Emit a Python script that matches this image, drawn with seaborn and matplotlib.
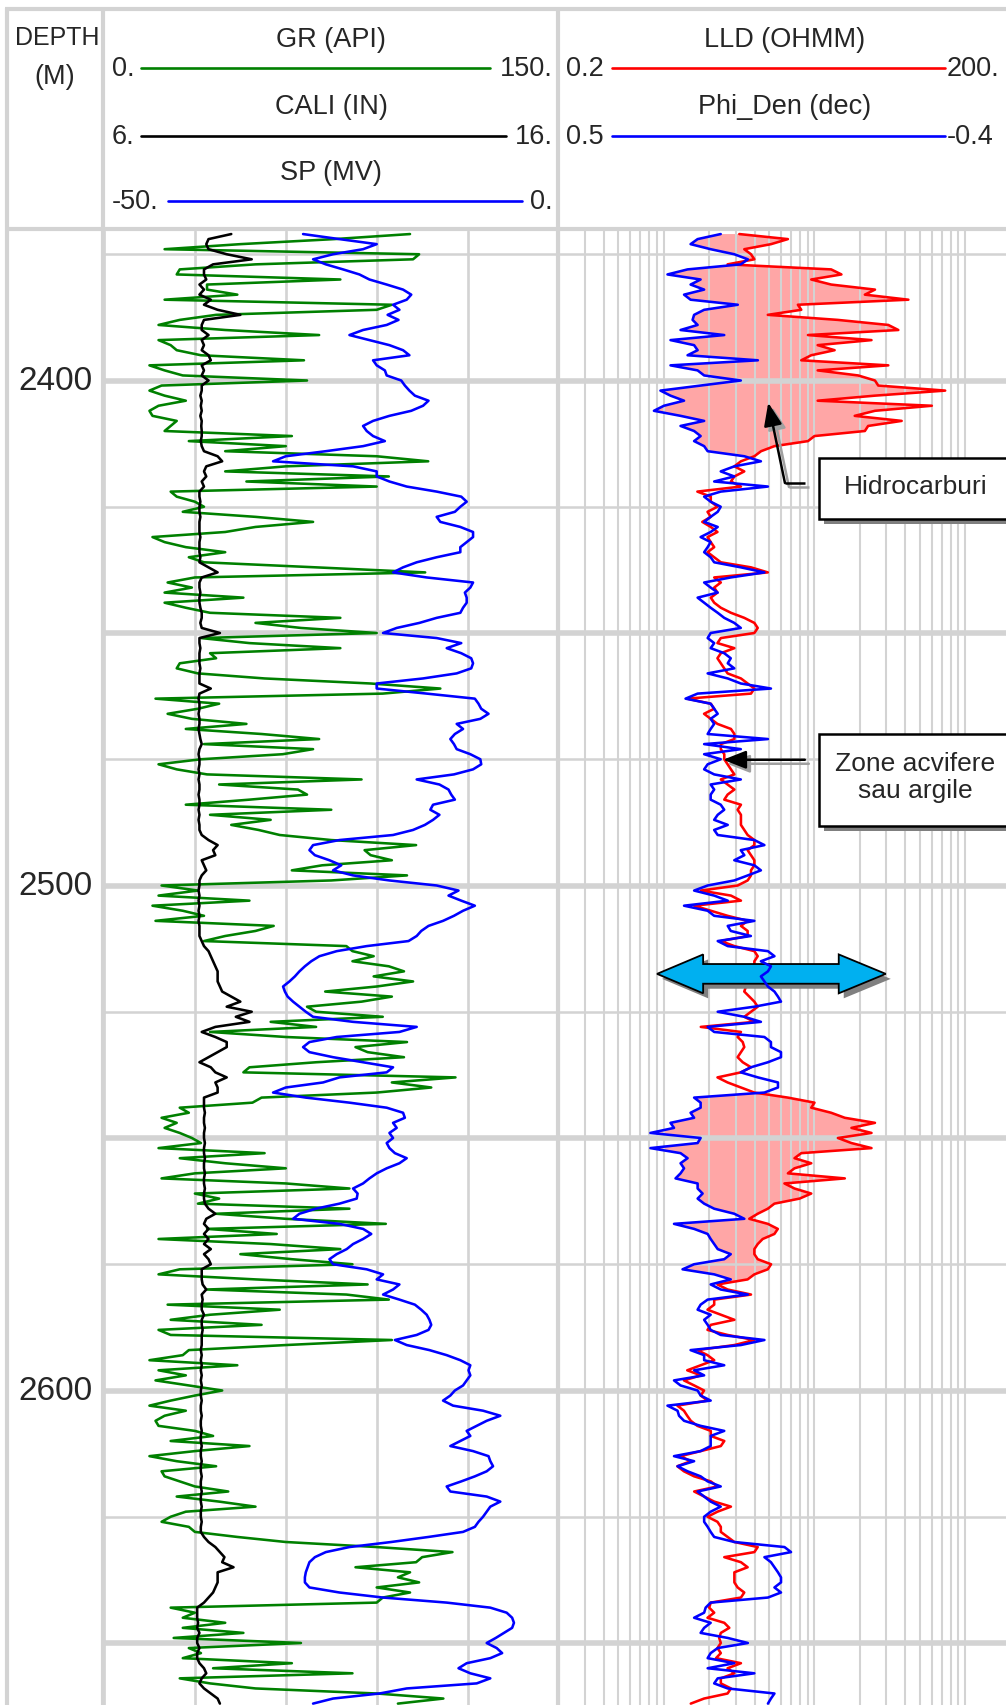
import numpy as np
import matplotlib
matplotlib.use("Agg")
import matplotlib.pyplot as plt
import seaborn as sns
from matplotlib.patches import Rectangle, Polygon, FancyArrowPatch
from matplotlib.ticker import FixedLocator, NullLocator

sns.set_style("white")
plt.rcParams['font.family'] = ['Liberation Sans', 'DejaVu Sans']

# ---------------- data (1 m sampling, first sample at 2371 m) ----------------
DEPTH_START = 2371

gr_api = [
    101, 76, 45, 20, 104, 102, 50, 25, 24, 78,
    34, 34, 44, 20, 95, 90, 37, 25, 18, 40,
    71, 18, 22, 24, 32, 66, 15, 20, 26, 67,
    19, 15, 20, 27, 18, 15, 16, 24, 22, 20,
    62, 28, 60, 40, 90, 107, 60, 40, 94, 47,
    90, 22, 24, 30, 33, 26, 50, 69, 50, 40,
    16, 20, 27, 40, 28, 33, 70, 106, 30, 21,
    29, 20, 46, 20, 27, 35, 78, 50, 65, 90,
    32, 48, 78, 35, 37, 25, 24, 31, 53, 88,
    111, 92, 17, 38, 31, 21, 29, 47, 27, 52,
    71, 33, 69, 59, 32, 18, 24, 34, 85, 38,
    64, 67, 48, 27, 75, 35, 55, 42, 51, 58,
    75, 103, 86, 88, 95, 72, 62, 100, 75, 19,
    31, 18, 48, 16, 26, 33, 17, 56, 50, 40,
    33, 80, 82, 89, 82, 94, 99, 89, 102, 90,
    73, 95, 85, 67, 70, 92, 55, 70, 35, 60,
    100, 83, 87, 99, 70, 48, 46, 116, 95, 108,
    90, 52, 49, 25, 28, 19, 24, 20, 25, 29,
    32, 18, 53, 25, 40, 60, 30, 19, 60, 81,
    30, 38, 31, 81, 37, 60, 93, 34, 57, 18,
    55, 78, 45, 62, 82, 25, 18, 50, 87, 34,
    80, 94, 21, 58, 35, 22, 52, 18, 22, 95,
    60, 28, 26, 15, 44, 18, 27, 17, 28, 39,
    30, 22, 15, 27, 20, 17, 18, 30, 36, 22,
    48, 30, 15, 24, 37, 19, 20, 25, 30, 41,
    24, 38, 50, 27, 22, 19, 28, 30, 44, 60,
    90, 115, 105, 103, 83, 101, 97, 104, 90, 101,
    92, 90, 22, 30, 26, 40, 26, 46, 23, 65,
    28, 32, 26, 62, 36, 82, 25, 35, 50, 90,
    112, 97,
]

cali_in = [
    8.8, 8.3, 8.25, 8.3, 8.7, 9.25, 8.4, 8.2, 8.2, 8.25,
    8.1, 8.2, 8.1, 8.35, 8.2, 8.5, 9.0, 8.2, 8.15, 8.15,
    8.3, 8.15, 8.2, 8.15, 8.3, 8.35, 8.15, 8.2, 8.15, 8.3,
    8.15, 8.15, 8.12, 8.15, 8.13, 8.15, 8.12, 8.15, 8.14, 8.15,
    8.15, 8.13, 8.15, 8.2, 8.5, 8.6, 8.25, 8.2, 8.25, 8.15,
    8.2, 8.1, 8.1, 8.12, 8.1, 8.1, 8.12, 8.1, 8.1, 8.1,
    8.12, 8.1, 8.1, 8.1, 8.12, 8.1, 8.3, 8.5, 8.15, 8.1,
    8.1, 8.12, 8.1, 8.1, 8.12, 8.15, 8.15, 8.12, 8.15, 8.55,
    8.1, 8.1, 8.12, 8.1, 8.1, 8.1, 8.12, 8.1, 8.1, 8.1,
    8.35, 8.1, 8.08, 8.1, 8.1, 8.08, 8.1, 8.1, 8.08, 8.1,
    8.12, 8.15, 8.1, 8.08, 8.1, 8.1, 8.08, 8.1, 8.08, 8.1,
    8.1, 8.08, 8.1, 8.1, 8.08, 8.1, 8.08, 8.1, 8.1, 8.15,
    8.3, 8.5, 8.4, 8.45, 8.15, 8.2, 8.25, 8.15, 8.1, 8.1,
    8.08, 8.1, 8.08, 8.1, 8.08, 8.1, 8.08, 8.1, 8.1, 8.1,
    8.15, 8.2, 8.3, 8.35, 8.4, 8.45, 8.5, 8.5, 8.5, 8.55,
    8.6, 8.8, 9.0, 8.7, 9.25, 8.9, 9.2, 8.45, 8.15, 8.45,
    8.7, 8.7, 8.5, 8.3, 8.1, 8.35, 8.45, 8.7, 8.45, 8.5,
    8.5, 8.2, 8.2, 8.2, 8.22, 8.2, 8.2, 8.22, 8.2, 8.2,
    8.22, 8.2, 8.2, 8.22, 8.2, 8.2, 8.22, 8.2, 8.2, 8.22,
    8.2, 8.2, 8.22, 8.3, 8.45, 8.25, 8.2, 8.3, 8.2, 8.3,
    8.2, 8.35, 8.2, 8.3, 8.35, 8.15, 8.15, 8.15, 8.17, 8.25,
    8.15, 8.17, 8.15, 8.15, 8.2, 8.15, 8.15, 8.17, 8.15, 8.15,
    8.15, 8.13, 8.15, 8.13, 8.15, 8.13, 8.15, 8.13, 8.15, 8.13,
    8.13, 8.15, 8.13, 8.13, 8.15, 8.13, 8.13, 8.15, 8.13, 8.13,
    8.15, 8.13, 8.13, 8.15, 8.13, 8.13, 8.15, 8.13, 8.13, 8.15,
    8.13, 8.13, 8.15, 8.13, 8.13, 8.15, 8.13, 8.13, 8.2, 8.3,
    8.45, 8.55, 8.65, 8.6, 8.85, 8.5, 8.5, 8.5, 8.45, 8.4,
    8.3, 8.2, 8.05, 8.05, 8.05, 8.07, 8.05, 8.1, 8.05, 8.05,
    8.1, 8.05, 8.05, 8.1, 8.2, 8.25, 8.15, 8.1, 8.2, 8.35,
    8.5, 8.55,
]

sp_mv = [
    -28.1, -24.1, -20.0, -21.5, -24.8, -27.0, -25.6, -23.7, -21.9, -20.8,
    -18.9, -17.1, -16.2, -16.7, -18.2, -17.5, -18.8, -17.6, -18.9, -21.5,
    -23.0, -20.8, -18.6, -17.1, -16.4, -20.4, -20.0, -19.1, -18.9, -17.3,
    -16.9, -16.4, -15.8, -14.3, -14.9, -16.2, -18.6, -20.4, -21.5, -21.1,
    -20.4, -19.1, -21.5, -25.6, -30.0, -31.4, -22.6, -20.0, -20.0, -18.6,
    -16.7, -13.4, -10.7, -10.1, -10.8, -11.4, -13.4, -13.0, -10.8, -9.4,
    -9.4, -10.1, -10.8, -10.8, -13.4, -15.6, -17.1, -18.2, -14.5, -9.4,
    -9.7, -10.3, -10.1, -10.1, -10.5, -10.8, -13.4, -15.3, -17.8, -19.3,
    -13.4, -10.7, -12.3, -10.7, -9.6, -9.4, -9.6, -11.2, -14.9, -20.0,
    -20.0, -14.5, -9.2, -8.8, -8.5, -7.7, -8.6, -11.2, -10.5, -11.4,
    -11.9, -11.5, -11.2, -9.7, -8.6, -8.5, -9.4, -11.5, -15.6, -13.1,
    -12.1, -11.8, -11.4, -13.8, -14.1, -13.1, -13.8, -14.7, -16.0, -18.2,
    -24.1, -27.0, -27.4, -26.8, -25.2, -23.9, -24.8, -22.6, -18.6, -13.4,
    -11.0, -12.1, -10.7, -9.2, -10.5, -11.5, -12.7, -14.3, -15.1, -15.6,
    -16.5, -21.1, -24.4, -26.3, -27.2, -27.9, -28.5, -29.0, -29.6, -30.3,
    -30.1, -29.8, -29.2, -28.5, -27.8, -27.0, -22.6, -15.6, -17.5, -24.4,
    -27.4, -28.1, -27.4, -24.8, -21.5, -18.2, -18.9, -24.1, -25.9, -30.0,
    -31.4, -27.8, -23.0, -18.9, -17.1, -16.9, -18.2, -17.8, -18.6, -18.2,
    -18.9, -18.6, -18.0, -16.7, -17.5, -18.9, -20.0, -20.8, -21.5, -22.6,
    -22.1, -22.2, -24.1, -26.7, -28.5, -29.2, -24.1, -21.5, -20.6, -21.5,
    -22.6, -23.3, -24.4, -25.2, -24.8, -21.1, -19.3, -20.0, -17.5, -18.2,
    -19.3, -17.5, -15.8, -15.1, -14.5, -14.2, -14.0, -14.3, -15.6, -18.0,
    -16.7, -14.2, -12.3, -10.8, -9.7, -9.9, -9.7, -10.1, -10.5, -11.4,
    -11.9, -12.7, -11.6, -8.3, -6.4, -7.9, -9.0, -10.1, -9.7, -10.8,
    -11.9, -9.4, -7.7, -7.5, -7.2, -7.9, -9.2, -10.7, -12.3, -11.9,
    -7.9, -6.4, -7.5, -7.9, -8.3, -8.8, -9.2, -10.5, -14.3, -18.4,
    -23.0, -25.6, -26.8, -27.4, -27.6, -27.8, -27.9, -27.9, -27.4, -24.1,
    -19.3, -12.3, -7.5, -5.7, -5.1, -4.9, -5.1, -6.0, -6.9, -7.9,
    -6.8, -6.2, -7.5, -10.1, -11.0, -9.7, -7.5, -9.0, -16.7, -19.7,
    -24.8, -27.0,
]

lld_ohmm = [
    3.17, 6.66, 5.15, 3.42, 3.79, 3.99, 2.65, 12.9, 15.1, 9.52,
    12.9, 25.2, 21.6, 42.0, 7.76, 8.17, 4.9, 14.3, 30.9, 36.0,
    9.05, 23.9, 10.5, 13.6, 9.52, 8.17, 30.9, 10.5, 19.5, 25.2,
    26.5, 73.7, 25.2, 10.5, 60.1, 25.2, 18.5, 37.9, 22.7, 21.6,
    10.0, 9.05, 5.42, 4.42, 3.99, 3.25, 2.94, 3.42, 2.94, 2.79,
    3.25, 1.67, 2.05, 2.05, 2.27, 1.95, 2.05, 1.80, 2.05, 2.27,
    1.95, 2.05, 2.16, 1.95, 2.16, 2.39, 3.79, 4.9, 2.16, 2.39,
    2.16, 2.27, 2.05, 2.16, 2.39, 2.79, 3.42, 3.99, 4.2, 3.99,
    2.39, 2.27, 2.94, 2.39, 2.27, 2.39, 2.52, 2.65, 3.25, 3.6,
    3.99, 3.79, 1.43, 2.05, 2.16, 1.85, 2.05, 2.27, 2.79, 2.94,
    2.94, 2.39, 2.39, 2.52, 2.52, 2.65, 2.79, 2.94, 2.39, 2.65,
    2.94, 2.65, 2.52, 3.25, 3.09, 3.25, 3.25, 3.25, 3.42, 3.6,
    3.99, 3.99, 3.6, 3.79, 3.99, 3.99, 3.79, 3.79, 3.6, 3.09,
    1.76, 2.79, 3.25, 1.59, 2.05, 2.65, 3.6, 3.25, 3.6, 3.6,
    2.39, 2.94, 3.99, 4.2, 3.99, 3.99, 3.79, 3.79, 3.6, 3.51,
    3.42, 3.69, 3.99, 4.2, 3.79, 3.42, 3.99, 1.76, 3.25, 3.09,
    3.34, 3.42, 3.25, 3.09, 3.34, 3.79, 3.25, 2.27, 2.65, 3.25,
    3.99, 6.66, 10.0, 9.52, 12.9, 15.9, 25.2, 17.6, 23.9, 14.3,
    17.6, 23.9, 8.17, 7.37, 9.52, 7.37, 6.66, 15.9, 6.32, 7.37,
    9.52, 7.96, 5.42, 4.9, 4.2, 3.69, 4.9, 5.71, 5.42, 4.53,
    4.2, 3.99, 3.99, 4.2, 5.15, 4.9, 3.99, 3.6, 2.27, 2.65,
    3.79, 2.16, 2.16, 1.95, 2.39, 2.94, 2.05, 1.95, 2.65, 3.99,
    2.94, 1.67, 1.95, 2.16, 1.76, 1.43, 1.76, 1.36, 1.59, 1.85,
    1.76, 1.95, 1.23, 1.36, 1.43, 1.51, 1.67, 2.05, 2.05, 2.52,
    2.39, 1.76, 1.29, 1.51, 1.23, 1.36, 1.59, 2.05, 2.27, 1.59,
    1.85, 2.16, 2.79, 2.27, 1.95, 2.27, 2.39, 2.39, 2.65, 2.94,
    4.2, 3.99, 2.52, 3.25, 3.6, 2.94, 2.94, 2.94, 3.09, 3.42,
    3.25, 2.05, 2.0, 2.16, 1.95, 2.52, 2.72, 2.39, 2.33, 2.39,
    2.27, 2.39, 2.22, 3.25, 2.65, 2.94, 2.39, 2.39, 2.79, 2.65,
    1.85, 1.51,
]

phi_den = [
    0.177, 0.223, 0.237, 0.197, 0.15, 0.123, 0.137, 0.243, 0.283, 0.217,
    0.237, 0.21, 0.25, 0.237, 0.143, 0.21, 0.23, 0.233, 0.223, 0.257,
    0.17, 0.277, 0.23, 0.223, 0.243, 0.103, 0.277, 0.223, 0.21, 0.137,
    0.217, 0.297, 0.277, 0.25, 0.29, 0.31, 0.257, 0.21, 0.257, 0.23,
    0.217, 0.23, 0.21, 0.203, 0.13, 0.097, 0.15, 0.177, 0.15, 0.19,
    0.083, 0.177, 0.21, 0.197, 0.177, 0.183, 0.197, 0.21, 0.183, 0.197,
    0.217, 0.197, 0.203, 0.21, 0.197, 0.19, 0.137, 0.09, 0.157, 0.21,
    0.197, 0.183, 0.223, 0.21, 0.197, 0.183, 0.17, 0.15, 0.137, 0.197,
    0.203, 0.19, 0.197, 0.17, 0.157, 0.163, 0.15, 0.203, 0.163, 0.137,
    0.077, 0.223, 0.247, 0.197, 0.19, 0.183, 0.197, 0.19, 0.197, 0.203,
    0.083, 0.21, 0.137, 0.21, 0.177, 0.203, 0.21, 0.19, 0.137, 0.197,
    0.19, 0.197, 0.197, 0.177, 0.17, 0.183, 0.19, 0.163, 0.19, 0.183,
    0.11, 0.09, 0.137, 0.13, 0.15, 0.11, 0.097, 0.123, 0.15, 0.203,
    0.23, 0.19, 0.163, 0.25, 0.203, 0.19, 0.11, 0.163, 0.157, 0.117,
    0.183, 0.163, 0.083, 0.07, 0.097, 0.077, 0.083, 0.097, 0.09, 0.083,
    0.07, 0.063, 0.057, 0.11, 0.183, 0.13, 0.097, 0.203, 0.19, 0.09,
    0.077, 0.077, 0.057, 0.057, 0.083, 0.117, 0.137, 0.103, 0.063, 0.063,
    0.09, 0.23, 0.217, 0.217, 0.237, 0.23, 0.277, 0.27, 0.317, 0.217,
    0.223, 0.317, 0.257, 0.243, 0.257, 0.25, 0.257, 0.267, 0.223, 0.223,
    0.213, 0.223, 0.21, 0.19, 0.15, 0.13, 0.27, 0.23, 0.203, 0.197,
    0.19, 0.183, 0.157, 0.17, 0.23, 0.253, 0.19, 0.157, 0.197, 0.177,
    0.123, 0.203, 0.217, 0.223, 0.197, 0.21, 0.203, 0.197, 0.177, 0.09,
    0.137, 0.237, 0.21, 0.21, 0.17, 0.23, 0.21, 0.27, 0.257, 0.223,
    0.217, 0.197, 0.283, 0.263, 0.26, 0.25, 0.217, 0.17, 0.197, 0.197,
    0.197, 0.217, 0.27, 0.23, 0.263, 0.243, 0.217, 0.203, 0.177, 0.223,
    0.21, 0.197, 0.177, 0.197, 0.21, 0.21, 0.203, 0.197, 0.19, 0.15,
    0.05, 0.037, 0.09, 0.077, 0.07, 0.063, 0.057, 0.057, 0.07, 0.057,
    0.083, 0.197, 0.207, 0.21, 0.23, 0.197, 0.21, 0.217, 0.163, 0.123,
    0.183, 0.197, 0.203, 0.15, 0.203, 0.11, 0.183, 0.19, 0.163, 0.07,
    0.077, 0.083,
]

depth_labels = [2400, 2500, 2600]
thick_depths = [2400, 2450, 2500, 2550, 2600, 2650]
thin_depths = [2375, 2425, 2475, 2525, 2575, 2625]
gr_grid = [0, 30, 60, 90, 120, 150]
lld_grid = [0.2, 0.3, 0.4, 0.5, 0.6, 0.7, 0.8, 0.9, 1, 2, 3, 4, 5, 6, 7, 8, 9,
            10, 20, 30, 40, 50, 60, 70, 80, 90, 100, 200]
hc_zone_top = [2370.0, 2541.5]
hc_zone_base = [2415.5, 2578.6]

n = min(len(gr_api), len(cali_in), len(sp_mv), len(lld_ohmm), len(phi_den))
depth = DEPTH_START + np.arange(n, dtype=float)
gr = np.array(gr_api[:n], float)
cali = np.array(cali_in[:n], float)
sp = np.array(sp_mv[:n], float)
lld = np.array(lld_ohmm[:n], float)
phi = np.array(phi_den[:n], float)

# ---------------- figure / layout ----------------
W, H = 1006, 1706
fig = plt.figure(figsize=(W / 100, H / 100), dpi=100)
fig.patch.set_facecolor("white")

TOP_PX = 232
PX_PER_M = 5.05
D_TOP = 2400 + (TOP_PX - 381.5) / PX_PER_M
D_BOT = 2400 + (H - 381.5) / PX_PER_M
AH = (H - TOP_PX) / H
X_D0, X_T1, X_T2, X_T2R = 7, 104, 558.5, 1010.5

GC = "#d3d3d3"
LW = 1.85

axd = fig.add_axes([X_D0 / W, 0, (X_T1 - X_D0) / W, AH])
ax1 = fig.add_axes([X_T1 / W, 0, (X_T2 - X_T1) / W, AH])
ax2 = fig.add_axes([X_T2 / W, 0, (X_T2R - X_T2) / W, AH])


def clean(ax):
    for s in ax.spines.values():
        s.set_visible(False)
    ax.tick_params(which="both", length=0, bottom=False, left=False, top=False, right=False,
                   labelbottom=False, labelleft=False, labeltop=False, labelright=False)
    ax.set_xlabel("")
    ax.set_ylabel("")


def ygrid(ax):
    ax.yaxis.set_major_locator(FixedLocator(thick_depths))
    ax.yaxis.set_minor_locator(FixedLocator(thin_depths))
    ax.grid(True, which="major", axis="y", color=GC, lw=4.0)
    ax.grid(True, which="minor", axis="y", color=GC, lw=1.8)


# ---- Track 1 : GR / CALI / SP ----
ax1s = ax1.twiny()
ax1c = ax1.twiny()
sns.lineplot(x=gr, y=depth, orient="y", sort=False, estimator=None,
             color="#008000", linewidth=LW, ax=ax1)
sns.lineplot(x=sp, y=depth, orient="y", sort=False, estimator=None,
             color="#0000ff", linewidth=LW, ax=ax1s)
sns.lineplot(x=cali, y=depth, orient="y", sort=False, estimator=None,
             color="black", linewidth=LW, ax=ax1c)
ax1.set_xlim(0, 150)
ax1s.set_xlim(-50, 0)
ax1c.set_xlim(6, 16)
ax1.set_axisbelow(True)
ax1.xaxis.set_major_locator(FixedLocator(gr_grid))
ax1.grid(True, which="major", axis="x", color=GC, lw=1.9)
ygrid(ax1)
for a in (ax1, ax1s, ax1c):
    clean(a)
ax1s.grid(False)
ax1c.grid(False)

# ---- Track 2 : LLD / Phi_Den ----
ax2.set_xscale("log")
ax2.set_xlim(0.2, 200)
ax2.set_axisbelow("line")
phi_as_lld = 0.2 * 10 ** (3 * (0.5 - phi) / 0.9)
zone = np.zeros(n, bool)
for t, b in zip(hc_zone_top, hc_zone_base):
    zone |= (depth >= t) & (depth <= b)
ax2.fill_betweenx(depth, phi_as_lld, lld, where=zone & (lld >= phi_as_lld),
                  interpolate=True, color="#ffa6a6", lw=0, zorder=1)
sns.lineplot(x=lld, y=depth, orient="y", sort=False, estimator=None,
             color="#ff0000", linewidth=LW, ax=ax2)
ax2.set_xscale("log")
ax2.set_xlim(0.2, 200)
ax2.xaxis.set_major_locator(FixedLocator(lld_grid))
ax2.xaxis.set_minor_locator(NullLocator())
ax2.grid(True, which="major", axis="x", color=GC, lw=1.5)
ygrid(ax2)
ax2p = ax2.twiny()
sns.lineplot(x=phi, y=depth, orient="y", sort=False, estimator=None,
             color="#0000ff", linewidth=LW, ax=ax2p)
ax2p.set_xlim(0.5, -0.4)
ax2p.grid(False)
clean(ax2)
clean(ax2p)

# ---- depth track ----
axd.set_axis_off()
for ax in (axd, ax1, ax2):
    ax.set_ylim(D_BOT, D_TOP)
tr_d = axd.get_yaxis_transform()
for d in depth_labels:
    axd.text(0.5, d, str(d), transform=tr_d, ha="center", va="center", fontsize=24)

# ---- annotations on track 2 ----
tr = ax2.get_yaxis_transform()
SX, SY = 5 / 452, 5 / PX_PER_M


def box(x0, d0, x1, d1):
    ax2.add_patch(Rectangle((x0 + SX, d0 + SY), x1 - x0, d1 - d0, transform=tr,
                            facecolor="#7f7f7f", edgecolor="none", zorder=6, clip_on=False))
    ax2.add_patch(Rectangle((x0, d0), x1 - x0, d1 - d0, transform=tr,
                            facecolor="white", edgecolor="black", lw=1.8, zorder=7, clip_on=False))


def arrow(pts, color, dx, dy, z):
    xs = [p[0] + dx for p in pts]
    ys = [p[1] + dy for p in pts]
    if len(pts) > 2:
        ax2.plot(xs[:-1], ys[:-1], transform=tr, color=color, lw=1.8, zorder=z,
                 clip_on=False, solid_capstyle="butt")
    ax2.add_patch(FancyArrowPatch((xs[-2], ys[-2]), (xs[-1], ys[-1]), transform=tr,
                                  arrowstyle="-|>,head_length=1.4,head_width=0.55",
                                  mutation_scale=10, color=color, lw=1.8,
                                  shrinkA=0, shrinkB=0, zorder=z, clip_on=False))


# Hidrocarburi
box(0.576, 2415.3, 1.03, 2427.4)
ax2.text(0.791, 2420.9, "Hidrocarburi", transform=tr, ha="center", va="center",
         fontsize=19, zorder=8, clip_on=False)
hc_pts = [(0.545, 2420.3), (0.501, 2420.3), (0.464, 2404.4)]
arrow(hc_pts, "#a0a0a0", 4 / 452, 4 / PX_PER_M, 6)
arrow(hc_pts, "black", 0, 0, 7)

# Zone acvifere sau argile
box(0.576, 2470.0, 1.03, 2488.2)
ax2.text(0.789, 2478.4, "Zone acvifere\nsau argile", transform=tr, ha="center",
         va="center", fontsize=19, zorder=8, clip_on=False, linespacing=1.2)
za_pts = [(0.545, 2475.1), (0.364, 2475.1)]
arrow(za_pts, "#a0a0a0", 4 / 452, 4 / PX_PER_M, 6)
arrow(za_pts, "black", 0, 0, 7)

# blue double arrow
xl, xlb, xrb, xr = 0.218, 0.320, 0.620, 0.724
yc, hh, sh = 2517.5, 3.85, 1.95
dbl = [(xl, yc), (xlb, yc - hh), (xlb, yc - sh), (xrb, yc - sh), (xrb, yc - hh),
       (xr, yc), (xrb, yc + hh), (xrb, yc + sh), (xlb, yc + sh), (xlb, yc + hh)]
ax2.add_patch(Polygon([(x + SX, y + SY) for x, y in dbl], closed=True, transform=tr,
                      facecolor="#808080", edgecolor="none", zorder=6, clip_on=False))
ax2.add_patch(Polygon(dbl, closed=True, transform=tr, facecolor="#00b0f0",
                      edgecolor="black", lw=1.3, zorder=7, clip_on=False))

# ---------------- frame & header (pixel space) ----------------
axf = fig.add_axes([0, 0, 1, 1], zorder=3)
axf.set_xlim(0, W)
axf.set_ylim(H, 0)
axf.set_axis_off()
BW = 3.0
axf.plot([5, W], [10, 10], color=GC, lw=BW, solid_capstyle="butt")
axf.plot([5, W], [230, 230], color=GC, lw=BW, solid_capstyle="butt")
for xv in (X_D0, 103.5, X_T2):
    axf.plot([xv, xv], [9, H], color=GC, lw=BW, solid_capstyle="butt")

HFS = 19.5
axf.text(57, 38, "DEPTH", ha="center", va="center", fontsize=18)
axf.text(55, 77, "(M)", ha="center", va="center", fontsize=HFS)

rows1 = [("GR (API)", 40, 69, "0.", "150.", "#008000", 141, 490),
         ("CALI (IN)", 107, 137, "6.", "16.", "black", 141, 506),
         ("SP (MV)", 173, 202, "-50.", "0.", "#0000ff", 168, 522)]
for title, ty, ly, lo, hi, col, x0, x1 in rows1:
    axf.text(331, ty, title, ha="center", va="center", fontsize=HFS)
    axf.plot([x0, x1], [ly, ly], color=col, lw=1.9)
    axf.text(112, ly, lo, ha="left", va="center", fontsize=HFS)
    axf.text(553, ly, hi, ha="right", va="center", fontsize=HFS)

rows2 = [("LLD (OHMM)", 40, 69, "0.2", "200.", "#ff0000"),
         ("Phi_Den (dec)", 107, 137, "0.5", "-0.4", "#0000ff")]
for title, ty, ly, lo, hi, col in rows2:
    axf.text(785, ty, title, ha="center", va="center", fontsize=HFS)
    axf.plot([612, 945], [ly, ly], color=col, lw=1.9)
    axf.text(566, ly, lo, ha="left", va="center", fontsize=HFS)
    axf.text(947, ly, hi, ha="left", va="center", fontsize=HFS)

fig.savefig("out.png", dpi=100)
